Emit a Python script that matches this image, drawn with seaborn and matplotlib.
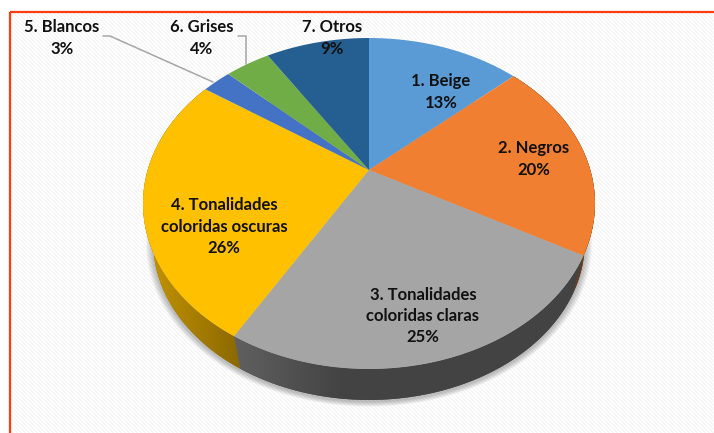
import numpy as np
import matplotlib
matplotlib.use("Agg")
import matplotlib.pyplot as plt
import seaborn as sns
from matplotlib.colors import to_rgb
from matplotlib.patches import Polygon, Rectangle
from matplotlib.path import Path
from matplotlib.transforms import Transform, Affine2D

categories = ["1. Beige", "2. Negros", "3. Tonalidades\ncoloridas claras",
              "4. Tonalidades\ncoloridas oscuras", "5. Blancos", "6. Grises", "7. Otros"]
values = [13.3, 19.8, 25.3, 26.2, 2.51, 3.9, 9.0]
colors = ["#5B9BD5", "#F07F31", "#A5A5A5", "#FFC000", "#4472C4", "#70AD47", "#255E91"]

sns.set_theme(style="white")
plt.rcParams["font.family"] = ["Lato", "DejaVu Sans"]
palette = sns.color_palette(colors)

W, H = 714, 433
fig = plt.figure(figsize=(W / 100, H / 100), dpi=100)
ax = fig.add_axes([0, 0, 1, 1])

# perspective layout (pixels)
CX, CY, A, B, K = 369.0, 170.0, 158.7, 221.3, 0.2024
ECX, ECY = 369.0, 203.5
RIM_S, RIM_DY = 0.955, 38.4


def project(xy):
    xy = np.asarray(xy, float)
    w = 1 + K * xy[:, 1]
    return np.column_stack([CX + B * xy[:, 0] / w, CY - A * xy[:, 1] / w])


def project_rim(xy):
    p = project(xy)
    return np.column_stack([ECX + RIM_S * (p[:, 0] - ECX), ECY + RIM_S * (p[:, 1] - ECY) + RIM_DY])


class PieProjection(Transform):
    input_dims = output_dims = 2
    is_separable = False
    has_inverse = False

    def transform_non_affine(self, values):
        return project(values)

    def transform_path_non_affine(self, path):
        poly = path.transformed(Affine2D().scale(2000)).to_polygons(closed_only=True)[0] / 2000
        return Path(project(poly), closed=True)


wedges, _ = ax.pie(values, colors=palette, startangle=90, counterclock=False,
                   wedgeprops=dict(linewidth=0), radius=1)
proj = PieProjection()
for w in wedges:
    w.set_transform(proj + ax.transData)
    w.set_zorder(5)

ax.set_aspect("auto")
ax.set_xlim(0, W)
ax.set_ylim(H, 0)
ax.axis("off")
fig.patch.set_facecolor("white")

# panel with faint diagonal texture and red border
yy, xx = np.indices((H + 20, W + 20))
tex = np.where((xx - yy) % 4 < 2, 1.0, 0.965)
panel = Rectangle((10, 12), W + 20, H + 20, facecolor="#fafafa", edgecolor="none", zorder=0)
ax.add_patch(panel)
im = ax.imshow(tex, cmap="gray", vmin=0, vmax=1, extent=[10, W + 30, H + 32, 12],
               interpolation="nearest", aspect="auto", zorder=0.1)
im.set_clip_path(panel)
ax.add_patch(Rectangle((10, 12), W + 20, H + 20, facecolor="none", edgecolor="#FF3D12",
                       linewidth=1.6, zorder=0.2))

# soft shadow under the pie
circle = np.column_stack([np.cos(np.linspace(0, 2 * np.pi, 300)), np.sin(np.linspace(0, 2 * np.pi, 300))])
base = project_rim(circle)
for i in range(7):
    g = 1 + (7 - i) * 0.0048
    pts = np.column_stack([ECX + g * (base[:, 0] - ECX), ECY + RIM_DY + g * (base[:, 1] - ECY - RIM_DY) + 1.5])
    ax.add_patch(Polygon(pts, closed=True, facecolor="black", edgecolor="none", alpha=0.04, zorder=1))

# extruded side
side_stops = {1: ([500, 600], [0.45, 0.45]),
              2: ([235, 340], [0.58, 0.41]),
              3: ([142, 238], [0.78, 0.55])}
for i, w in enumerate(wedges):
    if i not in side_stops:
        continue
    th = np.radians(np.linspace(w.theta1, w.theta2, 200))
    arc = np.column_stack([np.cos(th), np.sin(th)])
    pts = np.vstack([project(arc), project_rim(arc)[::-1]])
    c = np.array(to_rgb(colors[i]))
    stops_x, stops_f = side_stops[i]
    poly = Polygon(pts, closed=True, facecolor=c * stops_f[-1], edgecolor="none", zorder=2)
    ax.add_patch(poly)
    x0, x1 = pts[:, 0].min(), pts[:, 0].max()
    xs = np.linspace(x0, x1, 256)
    grad = np.interp(xs, stops_x, stops_f)[None, :, None] * c[None, None, :]
    g = ax.imshow(grad, extent=[x0, x1, pts[:, 1].max(), pts[:, 1].min()], aspect="auto",
                  interpolation="nearest", zorder=3)
    g.set_clip_path(poly)
ax.set_xlim(0, W)
ax.set_ylim(H, 0)

# labels
label_pos = [(441, 92), (534, 159), (423, 316), (224, 226.5), (62, 38), (202, 38), (332, 38)]
for name, v, (x, y) in zip(categories, values, label_pos):
    ax.text(x, y, f"{name}\n{v:.0f}%", ha="center", va="center", fontsize=12, fontweight="bold",
            color="#111111", linespacing=1.42, zorder=8)

# leader lines
ax.plot([103, 110, 213], [36, 36, 82], color="#A6A6A6", lw=1.1, zorder=4, solid_joinstyle="miter")
ax.plot([238, 246, 246], [36, 36, 64], color="#A6A6A6", lw=1.1, zorder=4, solid_joinstyle="miter")

fig.savefig("out.png", dpi=100, facecolor="white")
